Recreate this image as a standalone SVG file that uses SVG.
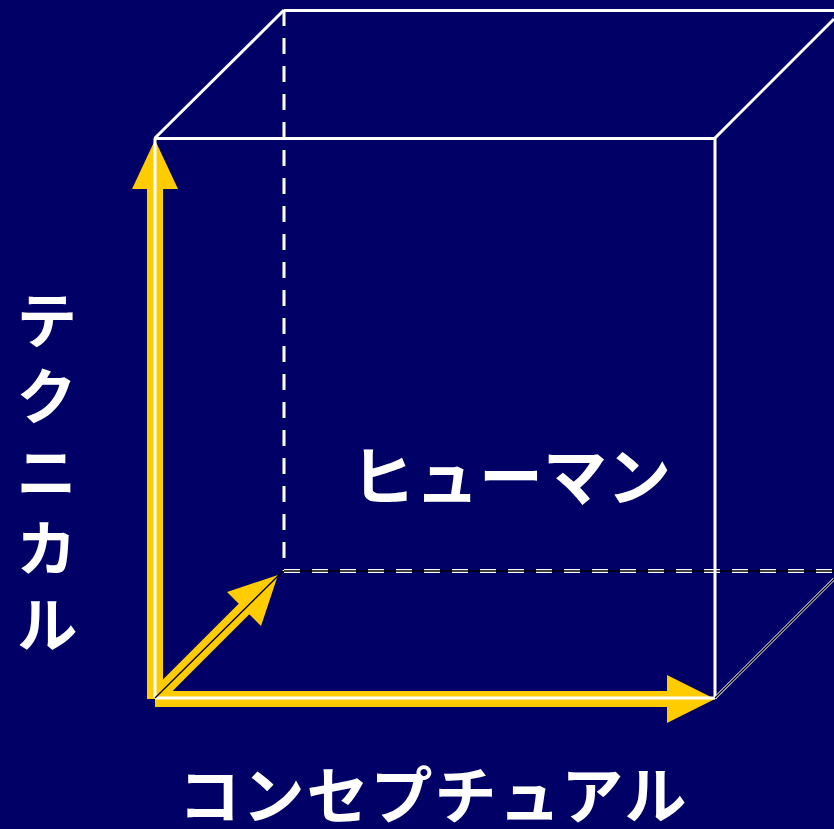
<svg xmlns="http://www.w3.org/2000/svg" width="834" height="829" viewBox="0 0 834 829">
<style>
.edge{stroke:#fff;stroke-width:3;fill:none}
.dash{stroke:#fff;stroke-width:3;fill:none;stroke-dasharray:16 12}
.dashw{stroke:#fff;stroke-width:4;fill:none;stroke-dasharray:16 12}
.core{stroke:#000;stroke-width:1.3;fill:none}
.arrow{fill:#FFCC00;stroke:none}
.shaft{stroke:#FFCC00;fill:none}
.lbl{font-family:"Noto Sans CJK JP","Noto Sans CJK SC",sans-serif;font-weight:bold;font-size:64px;fill:#fff;text-anchor:middle}
.vl{font-size:62px;writing-mode:vertical-rl;text-anchor:start;letter-spacing:14px}
.bl{font-size:62px;letter-spacing:2px}
</style>
<rect width="834" height="829" fill="#000066"/>
<g id="arrows">
<g id="arrow-technical">
<rect class="arrow" x="147" y="188" width="16" height="511"/>
<polygon class="arrow" points="155,140 132,189 178,189"/>
</g>
<g id="arrow-conceptual">
<rect class="arrow" x="155" y="691" width="514" height="16"/>
<polygon class="arrow" points="715,699 667,675 667,723"/>
</g>
<g id="arrow-human">
<line class="shaft" stroke-width="15" x1="158" y1="695" x2="246" y2="607"/>
<polygon class="arrow" points="278,575 227,592 261,626"/>
</g>
</g>
<g id="cube">
<line class="dash" x1="284" y1="10" x2="284" y2="571"/>
<line class="dashw" x1="284" y1="571" x2="834" y2="571"/>
<line class="core" x1="284" y1="571" x2="834" y2="571"/>
<line class="edge" x1="284" y1="10.5" x2="834" y2="10.5"/>
<line class="edge" x1="155" y1="138" x2="284" y2="10"/>
<line class="edge" x1="715" y1="138" x2="834" y2="19"/>
<line class="edge" x1="154" y1="138.5" x2="716" y2="138.5"/>
<line class="edge" x1="715" y1="138" x2="715" y2="699"/>
<line class="edge" stroke-width="2" x1="155" y1="138" x2="155" y2="698"/>
<line class="edge" x1="155" y1="698" x2="715" y2="698"/>
<line class="edge" x1="715" y1="698" x2="834" y2="579"/>
<line class="core" stroke="#222" stroke-width="1" x1="715" y1="698" x2="834" y2="579"/>
<line class="core" stroke-width="1.5" x1="155" y1="698" x2="283" y2="571"/>
</g>
<g id="label-technical">
<text class="lbl vl" x="46.5" y="289">テクニカル</text>
</g>
<g id="label-human">
<text class="lbl" x="511" y="500">ヒューマン</text>
</g>
<g id="label-conceptual">
<text class="lbl bl" x="433.5" y="819">コンセプチュアル</text>
</g>
</svg>
